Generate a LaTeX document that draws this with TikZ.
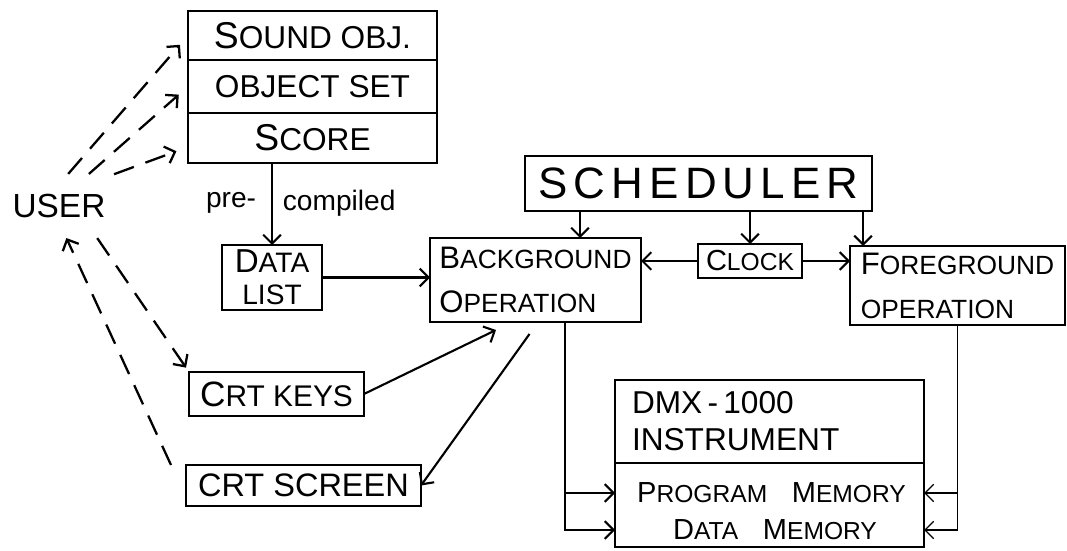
\documentclass[tikz,border=0pt]{standalone}
\usepackage{fontspec}
\setmainfont{Liberation Sans}
\usetikzlibrary{arrows.meta,positioning,calc}
\newcommand\hcap[1]{\scalebox{1.18}{#1}}
\tikzset{
  blk/.style={draw,line width=1.5pt,inner sep=0pt,outer sep=0pt},
  usr/.style={->,line width=1.3pt,dash pattern=on 12pt off 7pt},
  thin/.style={->,line width=0.7pt},
}

\begin{document}
\begin{tikzpicture}[>={Straight Barb[length=5pt,width=10pt]},line width=1.2pt]
\useasboundingbox (0,0) rectangle (21.34,11);
% user and the object stack
\node[minimum width=2.16cm,minimum height=1.24cm,inner sep=0pt,font=\fontsize{19}{19}\selectfont] (user) at (1.18,6.88) {USER};
\node[blk,minimum width=4.98cm,minimum height=0.98cm,font=\fontsize{18}{20}\selectfont] (snd) at (6.25,10.29) {\hcap{S}OUND OBJ.};
\node[blk,minimum width=4.98cm,minimum height=1.06cm,font=\fontsize{18}{20}\selectfont,below=0pt of snd] (objset) {OBJECT SET};
\node[blk,minimum width=4.98cm,minimum height=1cm,font=\fontsize{18}{20}\selectfont,below=0pt of objset] (score) {\hcap{S}CORE};
\node[blk,minimum width=2cm,minimum height=1.3cm,align=center,font=\fontsize{16}{18}\selectfont] (datal) at (5.44,5.45) {\hcap{D}ATA\\LIST};
\node[anchor=east,font=\fontsize{16}{18}\selectfont] (pre) at (5.26,6.94) {pre-};
\node[anchor=west,font=\fontsize{16}{18}\selectfont] (comp) at (5.52,6.94) {compiled};
% operations
\node[blk,minimum width=6.94cm,minimum height=1.1cm,font=\fontsize{25}{25}\selectfont] (sched) at (13.97,7.33)
  {S\hspace{3.5pt}C\hspace{3.5pt}H\hspace{3.5pt}E\hspace{3.5pt}D\hspace{3.5pt}U\hspace{3.5pt}L\hspace{3.5pt}E\hspace{3.5pt}R};
\node[blk,minimum width=4.22cm,minimum height=1.68cm,align=left,font=\fontsize{15}{25}\selectfont] (bg) at (10.71,5.40) {\hcap{B}ACKGROUND\\\hcap{O}PERATION};
\node[blk,minimum width=2.08cm,minimum height=0.68cm,font=\fontsize{14}{16}\selectfont] (clock) at (15,5.78) {\hcap{C}LOCK};
\node[blk,minimum width=4.3cm,minimum height=1.58cm,align=left,font=\fontsize{15}{25}\selectfont] (fg) at (19.15,5.29) {\hcap{F}OREGROUND\\OPERATION};
% crt
\node[blk,minimum width=3.5cm,minimum height=0.88cm,font=\fontsize{17}{19}\selectfont] (crtkeys) at (5.53,3.12) {\hcap{C}RT KEYS};
\node[blk,minimum width=4.7cm,minimum height=0.82cm,font=\fontsize{18.5}{20}\selectfont] (crtscr) at (6.07,1.29) {CRT SCREEN};
% instrument
\node[blk,text width=5.5cm,inner xsep=0.34cm,minimum height=1.66cm,align=left,font=\fontsize{18}{21}\selectfont] (dmx) at (15.39,2.57) {DMX\,-\,1000\\INSTRUMENT};
\node[blk,minimum width=6.18cm,minimum height=1.68cm,below=0pt of dmx] (mem) {};
\node[font=\fontsize{14}{16}\selectfont] (prog) at (15.43,1.14) {\hcap{P}ROGRAM\quad\hcap{M}EMORY};
\node[font=\fontsize{14}{16}\selectfont] (datam) at (15.5,0.40) {\hcap{D}ATA\quad\hcap{M}EMORY};

% user arrows
\draw[usr,shorten >=7pt] (user.74) -- (snd.west);
\draw[usr,shorten >=7pt] (user.47) -- (objset.west);
\draw[usr,shorten >=7pt] (user.30) -- ([yshift=-0.18cm]score.west);
\draw[usr,shorten >=3pt] (user.-40) -- (crtkeys.north west);
\draw[usr] ($(crtscr.north west)+(-0.3,0)$) -- (user.-77);

\draw[->] (datal.north |- score.south) -- (datal.north);
\draw[->] (datal.east) -- (datal.east -| bg.west);
\draw[->] ($(sched.south west)+(1.1,0)$) coordinate (s1) -- (s1 |- bg.north);
\draw[->] (clock.north |- sched.south) -- (clock.north);
\draw[->] ($(sched.south east)+(-0.18,0)$) coordinate (s3) -- (s3 |- fg.north);
\draw[->] (clock.west) -- (clock.west -| bg.east);
\draw[->] (clock.east) -- (clock.east -| fg.west);
\draw[->] (crtkeys.east) -- ($(bg.south west)+(1.32,-0.16)$);
\draw[->] ($(bg.south)+(-0.12,-0.24)$) -- (crtscr.east);

% into the instrument
\draw[->] ($(bg.south)+(0.59,0)$) coordinate (b1) |- (mem.west |- prog);
\draw[->] (b1) |- (mem.west |- datam);
\draw[thin] (fg.south) |- (mem.east |- prog);
\draw[thin] (fg.south) |- (mem.east |- datam);
\end{tikzpicture}
\end{document}
